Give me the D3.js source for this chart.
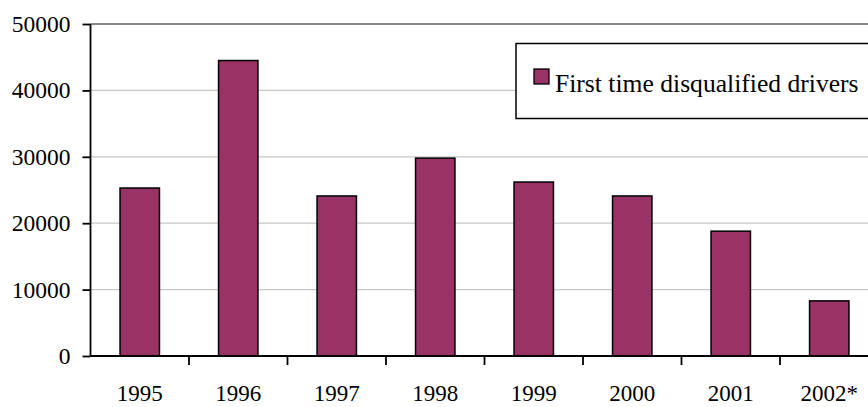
<!DOCTYPE html>
<html>
<head>
<meta charset="utf-8">
<script src="https://cdn.jsdelivr.net/npm/d3@7/dist/d3.min.js"></script>
<style>
  html, body { margin: 0; padding: 0; background: #fff; }
  svg { display: block; }
  text { font-family: "Liberation Serif", "Times New Roman", "DejaVu Serif", serif; fill: #000; }
</style>
</head>
<body>
<svg id="chart" width="868" height="407"></svg>
<script>
// Number of first time disqualified drivers per year
const years = ["1995", "1996", "1997", "1998", "1999", "2000", "2001", "2002*"];
const drivers = [25300, 44500, 24100, 29800, 26200, 24100, 18800, 8300];
const yTicks = [0, 10000, 20000, 30000, 40000, 50000];
const seriesName = "First time disqualified drivers";

const FONT = "'Liberation Serif', 'Times New Roman', 'DejaVu Serif', serif";
const svg = d3.select("#chart");
const plot = { left: 90.5, top: 24, bottom: 356, step: 98.5 };
const plotRight = plot.left + plot.step * years.length;

const x = d3.scaleBand()
  .domain(years)
  .range([plot.left, plotRight])
  .paddingInner(0.6)
  .paddingOuter(0.3);

const y = d3.scaleLinear()
  .domain([0, 50000])
  .range([plot.bottom, plot.top]);

// gridlines
svg.append("g")
  .selectAll("line")
  .data(yTicks.filter(d => d > 0 && d < 50000))
  .join("line")
  .attr("x1", plot.left).attr("x2", plotRight)
  .attr("y1", d => y(d)).attr("y2", d => y(d))
  .attr("stroke", "#c8c8c8").attr("stroke-width", 1.2);

// top border of the plot area
svg.append("line")
  .attr("x1", plot.left).attr("x2", plotRight)
  .attr("y1", y(50000)).attr("y2", y(50000))
  .attr("stroke", "#888").attr("stroke-width", 1.8);

// bars
svg.append("g")
  .selectAll("rect")
  .data(years.map((yr, i) => ({ yr, v: drivers[i] })))
  .join("rect")
  .attr("x", d => x(d.yr))
  .attr("width", x.bandwidth())
  .attr("y", d => y(d.v))
  .attr("height", d => y(0) - y(d.v))
  .attr("fill", "#993366")
  .attr("stroke", "#000")
  .attr("stroke-width", 1.5);

// y axis
const yAxis = svg.append("g")
  .attr("transform", `translate(${plot.left},0)`)
  .call(d3.axisLeft(y).tickValues(yTicks).tickFormat(d3.format("d")).tickSize(8).tickPadding(12));
yAxis.attr("font-family", FONT).attr("font-size", 23.5);
yAxis.select(".domain").attr("stroke", "#000").attr("stroke-width", 1.8)
  .attr("d", `M0,${plot.top}V${plot.bottom}`);
yAxis.selectAll(".tick line").attr("stroke", "#000").attr("stroke-width", 1.8);
yAxis.selectAll(".tick text")
  .style("font-family", FONT)
  .style("font-size", "23.5px").attr("fill", "#000");

// x axis with ticks at category boundaries
const xAxisG = svg.append("g");
xAxisG.append("line")
  .attr("x1", plot.left).attr("x2", plotRight)
  .attr("y1", plot.bottom).attr("y2", plot.bottom)
  .attr("stroke", "#000").attr("stroke-width", 1.8);
xAxisG.selectAll("line.tk")
  .data(d3.range(1, years.length + 1))
  .join("line")
  .attr("class", "tk")
  .attr("x1", i => plot.left + i * plot.step)
  .attr("x2", i => plot.left + i * plot.step)
  .attr("y1", plot.bottom).attr("y2", plot.bottom + 9)
  .attr("stroke", "#000").attr("stroke-width", 1.8);
xAxisG.selectAll("text")
  .data(years)
  .join("text")
  .attr("x", d => x(d) + x.bandwidth() / 2)
  .attr("y", 401)
  .attr("text-anchor", "middle")
  .style("font-family", FONT)
  .style("font-size", "23px")
  .text(d => d);

// legend
const lg = svg.append("g");
lg.append("rect")
  .attr("x", 516).attr("y", 43.5)
  .attr("width", 380).attr("height", 75)
  .attr("fill", "#fff").attr("stroke", "#000").attr("stroke-width", 1.5);
lg.append("rect")
  .attr("x", 534).attr("y", 69)
  .attr("width", 15).attr("height", 15)
  .attr("fill", "#993366").attr("stroke", "#000").attr("stroke-width", 1.3);
lg.append("text")
  .attr("x", 555).attr("y", 92)
  .style("font-family", FONT)
  .style("font-size", "25.6px")
  .text(seriesName);
</script>
</body>
</html>
